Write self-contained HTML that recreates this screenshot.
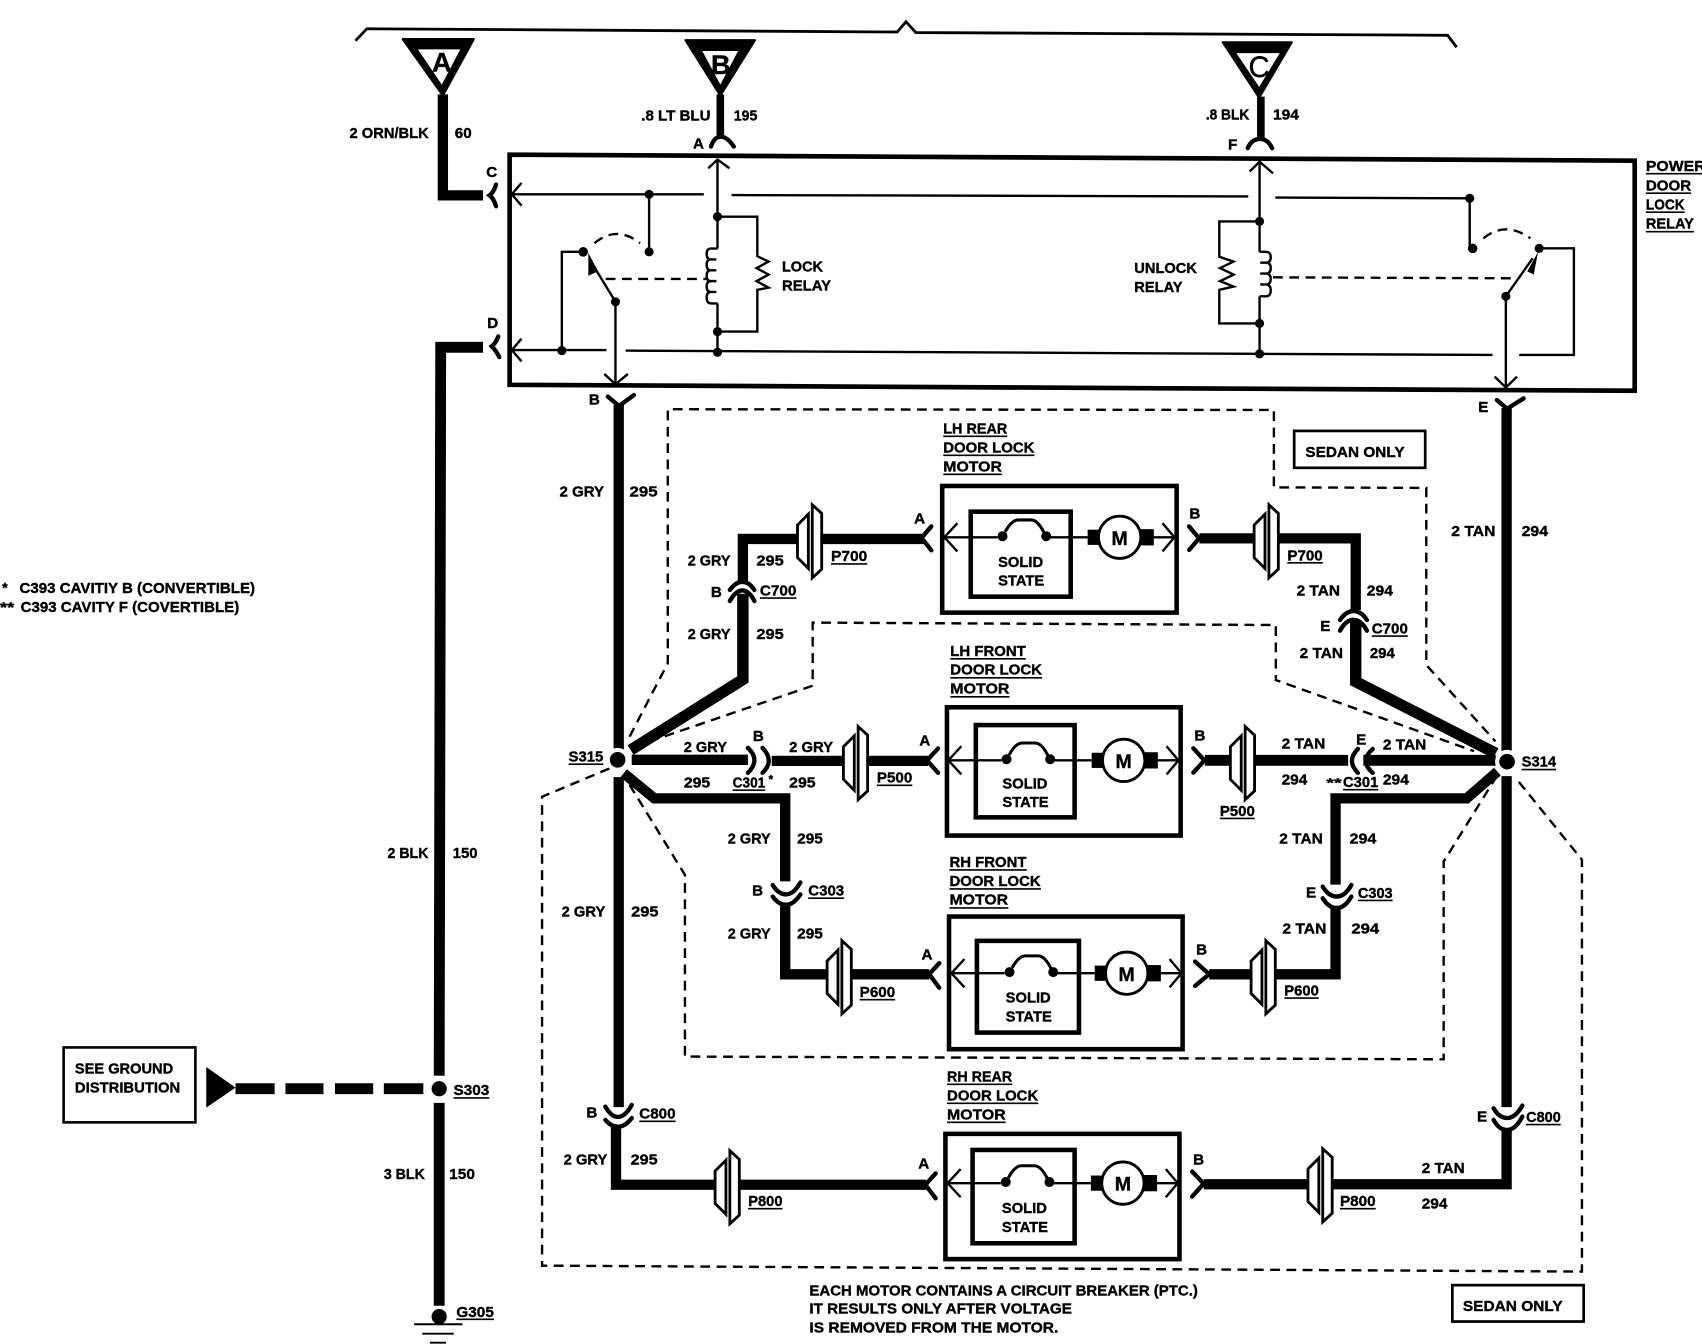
<!DOCTYPE html>
<html>
<head>
<meta charset="utf-8">
<title>Power Door Lock Diagram</title>
<style>
html,body{margin:0;padding:0;background:#fff;width:1702px;height:1344px;overflow:hidden}
svg{display:block}
text{font-family:"Liberation Sans",sans-serif;font-weight:bold;font-size:14px;fill:#000;stroke:#000;stroke-width:.35}
.w{fill:none;stroke:#000;stroke-width:9.5;stroke-linejoin:miter}
.c{fill:none;stroke:#000;stroke-width:4;stroke-linecap:round}
.n{fill:none;stroke:#000;stroke-width:2.2}
.d{fill:none;stroke:#000;stroke-width:2.2;stroke-dasharray:9 6}
.u{fill:none;stroke:#000;stroke-width:1.5}
.m{text-anchor:middle}
</style>
</head>
<body>
<svg xmlns="http://www.w3.org/2000/svg" width="1702" height="1344" viewBox="0 0 1568 1238.2">
<defs>
<g id="p">
<rect x="-11" y="-12" width="22" height="24" fill="#fff"/>
<polygon points="-11,-15 -1,-25 -1,25 -11,15" fill="#fff" stroke="#000" stroke-width="2.6"/>
<polygon points="2.6,-33.7 11.3,-25.7 11.3,25.7 2.6,33.7" fill="#fff" stroke="#000" stroke-width="2.6"/>
</g>
<g id="mo">
<path class="n" d="M2 0H51M100 0H134M195 0H214M14 -13L2 0L14 13M203 -13L214 0L203 13"/>
<circle cx="55.6" cy="-1" r="4.6"/><circle cx="95.8" cy="-1" r="4.6"/>
<path d="M58 -5Q64 -16 70 -16H82Q88 -16 94 -4" fill="none" stroke="#000" stroke-width="2.8"/>
<rect x="134" y="-7" width="10" height="14"/><rect x="182.5" y="-7.5" width="12.5" height="15"/>
<circle cx="163.5" cy="0" r="19.5" fill="#fff" stroke="#000" stroke-width="2.6"/>
</g>
</defs>

<!-- top bracket -->
<path d="M327.5 37.5L338 26.5L826.5 29.5L834.7 20L843.7 30L1333.6 32.5L1342 43.5" fill="none" stroke="#000" stroke-width="2.6"/>

<!-- fuse triangles -->
<polygon points="371,36 436.5,36 408,88" stroke="#000" stroke-width="2" stroke-linejoin="round"/>
<polygon points="385,45.5 424,45.5 407,78" fill="#fff"/>
<polygon points="631.5,37 695.5,37 663.6,88" stroke="#000" stroke-width="2" stroke-linejoin="round"/>
<polygon points="647,47 680,47 663.6,78" fill="#fff"/>
<polygon points="1126.5,39 1190,39 1160,90" stroke="#000" stroke-width="2" stroke-linejoin="round"/>
<polygon points="1139,49 1179,49 1160,80" fill="#fff"/>
<text x="407" y="66" class="m" style="font-size:25px">A</text>
<text x="664" y="68" class="m" style="font-size:25px">B</text>
<text x="1160" y="71" class="m" style="font-size:27px;font-weight:normal">C</text>

<!-- relay box -->
<polygon points="469.5,142.5 1506,148 1506,360 469.5,354.5" fill="none" stroke="#000" stroke-width="4.3"/>

<!-- relay internals -->
<path class="n" d="M471.5 179H648.4M674 179.7L1150 181M1175 182L1354 182.7V229M480.5 168.5L471.5 179L480.5 189.5"/>
<path class="n" d="M471.5 322.5H558.7M576.4 323L1160 326L1375 327M1399.6 327H1450V228.8H1418M480.5 312L471.5 322.5L480.5 333"/>
<path class="n" d="M598 179V232M537 232H517.6V323M567 278V353M556.7 344.5L567 354L578.5 344.5M567 278L545 242"/>
<polygon points="542,233 551,250 542,254"/>
<path class="d" stroke-dasharray="7 6" d="M547.6 224Q568 207 589.6 224"/>
<path class="d" d="M558 257H650.5"/>
<path class="n" d="M661 147V229M661 279.5V325.5M652.5 155L661 147L672 155M661 229H655Q651 229 651 234Q651 239 655 239H660M655 239Q651 239 651 244Q651 249 655 249H660M655 249Q651 249 651 254Q651 259 655 259H660M655 259Q651 259 651 264Q651 269 655 269H660M655 269Q651 269 651 274Q651 279.5 655 279.5H661"/>
<path class="n" d="M661 199.6H697.7V236L708 241L697 247L708 253L697 259L708 265L697.7 267V305.5H661"/>
<circle cx="598" cy="179" r="4.2"/><circle cx="598" cy="232" r="4.2"/><circle cx="537.3" cy="232" r="4.4"/><circle cx="567" cy="278" r="4.2"/><circle cx="517.6" cy="323" r="4.2"/><circle cx="661" cy="199.6" r="4.2"/><circle cx="661" cy="305.5" r="4.2"/><circle cx="661" cy="324.5" r="4.2"/>

<path class="n" d="M1160.4 149V232M1160.4 273V326M1151.3 158L1160.4 149L1172.8 159.7M1160.4 232H1166Q1170.7 232 1170.7 237Q1170.7 242 1166 242H1161M1166 242Q1170.7 242 1170.7 247Q1170.7 252 1166 252H1161M1166 252Q1170.7 252 1170.7 257Q1170.7 262 1166 262H1161M1166 262Q1170.7 262 1170.7 267.5Q1170.7 273 1166 273H1160.4"/>
<path class="n" d="M1160.4 204H1123.3V236.5L1136.5 241L1124 247L1136.5 253L1124 259L1136.5 264L1123.3 267V298H1160.4"/>
<path class="d" d="M1172.8 255.5L1397.6 256.4"/>
<path class="d" stroke-dasharray="7 6" d="M1366.6 219.6Q1387 203 1410 219.6"/>
<path class="n" d="M1387.3 273V356M1377 347L1387.3 357L1397.6 347M1387.3 273L1412 238"/>
<polygon points="1417,232 1407,250 1413,253"/>
<circle cx="1354" cy="182.7" r="4.2"/><circle cx="1356.7" cy="228.8" r="4.4"/><circle cx="1418" cy="228.8" r="4.2"/><circle cx="1387.3" cy="273" r="4.2"/><circle cx="1160.4" cy="204" r="4.2"/><circle cx="1160.4" cy="298" r="4.2"/><circle cx="1160.4" cy="326" r="4.2"/>

<!-- dashed enclosures -->
<path class="d" d="M580 678.7L615.2 611V377L1173.6 377.7V449L1314 449.5V612.6L1377.7 683"/>
<path class="d" d="M584 688L748.7 631.7V573.6L1175.4 575.8V626.5L1358 692"/>
<path class="d" d="M580 723L631 806V973.4L1330 975.9V793.8L1377.7 717"/>
<path class="d" d="M561.4 708L499.4 734V1166L1457.4 1171.5V792L1399 720"/>

<!-- wires -->
<path class="w" d="M408 87V180H445"/>
<path class="w" style="stroke-width:10" d="M445 320H406L404.6 991M404.6 1016V1203"/>
<path class="w" style="stroke-width:7" d="M663.6 87V127M1161.6 89V129"/>
<path class="w" d="M570 373V692M570 716V1020"/>
<path class="w" d="M567.5 1036V1091.5H853"/>
<path class="w" d="M1388 376V692M1388 715V1020"/>
<path class="w" d="M1388 1040V1091H1109"/>
<path class="w" style="stroke-width:10.5" d="M581 691L684.4 626V547"/>
<path class="w" d="M684.4 536V496.5H851"/>
<path class="w" style="stroke-width:10.5" d="M1378 694L1249 628V572"/>
<path class="w" d="M1249 562V496H1105"/>
<path class="w" d="M582 700H689M711 701H855"/>
<path class="w" style="stroke-width:10" d="M1378 700.5H1256M1242 700.5H1110"/>
<path class="w" d="M574.6 712.4L602.8 735.5H723.4V812"/>
<path class="w" d="M723.4 832V897.6H856"/>
<path class="w" d="M1379.5 710.9L1351.2 735.5H1230.4V815"/>
<path class="w" d="M1230.4 835V897.6H1114"/>

<!-- connector shells -->
<path class="c" d="M457 170Q455 177 451 180Q455 183 457 190"/>
<path class="c" d="M459 310Q457 316 453 319Q457 323 460 329"/>
<path class="c" d="M655 135Q658 126 664 126Q670 126 676 135"/>
<path class="c" d="M1149.5 136.5Q1153 128 1161 128Q1168 128 1172 136.5"/>
<path class="c" d="M560 365.4L570.2 374L584 364"/>
<path class="c" d="M1379 368.5L1388.5 376.5L1403.7 367"/>
<path class="c" d="M672.4 543.5Q678 536 683.7 536Q690 536 695 543.5M672.4 553.7Q678 544 683.7 544Q690 544 695 553.7"/>
<path class="c" d="M1234.5 571.2Q1240 563 1247 563Q1254 563 1259.3 571.2M1234.5 581Q1240 571 1247 571Q1254 571 1259.3 581"/>
<path class="c" d="M689 689Q701 700 689 712M702.5 689Q714 701 702.5 712"/>
<path class="c" d="M1251 690Q1240 701 1251 712M1264.6 690Q1252 701 1264.6 712"/>
<path class="c" d="M711.9 815.3Q717 824 724.3 824Q731 824 737.4 813M711.9 826Q717 833.5 724.3 833.5Q731 833.5 737.4 824"/>
<path class="c" d="M1218.6 816.8Q1224 826 1231.6 826Q1239 826 1245 815.3M1218.6 827.5Q1224 836.5 1231.6 836.5Q1239 836.5 1245 826"/>
<path class="c" d="M557.7 1019.5Q563 1029 569 1029Q576 1029 582 1018M557.7 1031.8Q563 1038 569 1038Q576 1038 582 1030"/>
<path class="c" d="M1376 1021Q1381 1030 1388.4 1030Q1396 1030 1402.5 1018.5M1376 1031.7Q1381 1041 1388.4 1041Q1396 1041 1402.5 1028.7"/>
<path class="c" d="M858 485L849 495.5L858 507"/>
<path class="c" d="M864.2 689.5L854 700.5L864.2 712"/>
<path class="c" d="M865.3 887.4L856 897.5L865.3 910"/>
<path class="c" d="M862 1081L852.5 1091.5L862 1104"/>
<path class="c" d="M1095.5 485L1104.7 496L1095.5 506.7"/>
<path class="c" d="M1099.4 689.4L1109.6 700.5L1099.4 711.8"/>
<path class="c" d="M1101 885.9L1114 897.5L1101 908.3"/>
<path class="c" d="M1098.3 1079.3L1108.9 1090.5L1098.3 1102.4"/>

<!-- plugs -->
<use href="#p" x="745.7" y="498.7"/>
<use href="#p" x="1166.4" y="498.7"/>
<use href="#p" x="788" y="703"/>
<use href="#p" x="1144.5" y="703"/>
<use href="#p" x="773" y="900.3"/>
<use href="#p" x="1163.6" y="900.3"/>
<use href="#p" x="669.8" y="1093.8"/>
<use href="#p" x="1216" y="1092"/>

<!-- motor boxes -->
<g fill="none" stroke="#000" stroke-width="4.2">
<rect x="868" y="447.7" width="216" height="116.7"/>
<rect x="872.4" y="651.6" width="215.3" height="118.2"/>
<rect x="874.3" y="844.4" width="215.2" height="122.2"/>
<rect x="871" y="1044.6" width="215.6" height="115.4"/>
<rect x="894.3" y="471.4" width="92.1" height="78.3"/>
<rect x="899" y="668" width="91" height="85"/>
<rect x="900" y="866.8" width="94" height="84.5"/>
<rect x="896" y="1059.4" width="94" height="86"/>
</g>
<use href="#mo" x="868" y="495"/>
<use href="#mo" x="871.7" y="700.5"/>
<use href="#mo" x="874.5" y="896.6"/>
<use href="#mo" x="871" y="1090"/>
<text x="1031.5" y="502" class="m" style="font-size:18px">M</text>
<text x="1035.2" y="707.5" class="m" style="font-size:18px">M</text>
<text x="1038" y="903.6" class="m" style="font-size:18px">M</text>
<text x="1034.5" y="1097" class="m" style="font-size:18px">M</text>
<text x="919.5" y="522.5" textLength="41.5" lengthAdjust="spacingAndGlyphs">SOLID</text>
<text x="919.5" y="539.5" textLength="42.5" lengthAdjust="spacingAndGlyphs">STATE</text>
<text x="923.5" y="726.5" textLength="41.5" lengthAdjust="spacingAndGlyphs">SOLID</text>
<text x="923.5" y="743.5" textLength="42.5" lengthAdjust="spacingAndGlyphs">STATE</text>
<text x="926.5" y="923.7" textLength="41.5" lengthAdjust="spacingAndGlyphs">SOLID</text>
<text x="926.5" y="941" textLength="42.5" lengthAdjust="spacingAndGlyphs">STATE</text>
<text x="923" y="1117.5" textLength="41.5" lengthAdjust="spacingAndGlyphs">SOLID</text>
<text x="923" y="1135" textLength="42.5" lengthAdjust="spacingAndGlyphs">STATE</text>

<!-- splices & ground -->
<circle cx="569" cy="700" r="11" fill="#fff"/><circle cx="569" cy="700" r="7.2"/>
<circle cx="1388.4" cy="701.7" r="11" fill="#fff"/><circle cx="1388.4" cy="701.7" r="7.2"/>
<circle cx="404.6" cy="1003" r="7"/>
<circle cx="404.6" cy="1213" r="7"/>
<path d="M381.6 1220H426M389 1228.7H418M396 1237H411" fill="none" stroke="#000" stroke-width="1.8"/>

<!-- ground distribution -->
<rect x="58.6" y="965" width="121.4" height="69" fill="none" stroke="#000" stroke-width="2.4"/>
<polygon points="190,983 217,1002 190,1020.4"/>
<path d="M217 1003H253M263 1003H298M308.6 1003H343.8M353.6 1003H390" fill="none" stroke="#000" stroke-width="10"/>
<text x="69" y="989" textLength="90.5" lengthAdjust="spacingAndGlyphs">SEE GROUND</text>
<text x="69" y="1006.5" textLength="97" lengthAdjust="spacingAndGlyphs">DISTRIBUTION</text>

<!-- sedan only -->
<rect x="1192.3" y="397" width="120.7" height="34" fill="none" stroke="#000" stroke-width="2.5"/>
<rect x="1338" y="1184" width="121" height="33.5" fill="none" stroke="#000" stroke-width="2.5"/>
<text x="1202.6" y="421" textLength="91.4" lengthAdjust="spacingAndGlyphs">SEDAN ONLY</text>
<text x="1347.7" y="1208" textLength="92" lengthAdjust="spacingAndGlyphs">SEDAN ONLY</text>

<!-- underlines -->
<path class="u" d="M869 402H928M869 419.5H953M869 437H923M875.5 607H945M875.5 624.5H960M875.5 642H930M874.7 801.5H946M874.7 819H959M874.7 836.5H929M872.5 999H932.5M872.5 1016.5H956.5M872.5 1034H926.5M1516.3 160H1568M1516.3 178H1558M1516.3 195.5H1552M1516.3 213.5H1560.5M700 551H733.7M765.6 519.5H799M675 728H705M807.8 723.5H840.5M744.6 827.5H777.7M792 921H824.7M588.9 1033H622.4M689.3 1113.5H720.9M1186 518.5H1218.6M1263.8 586H1297M1237.3 727.5H1269.8M1123.8 754H1156M1251 829.5H1283M1183.2 919.5H1215M1406 1036H1437.9M1234.5 1113.5H1267.4M523.8 704H555.8M1401.8 709H1433.6M417.8 1011.5H450.7M420.4 1215.5H455"/>

<!-- motor titles -->
<text x="869" y="399.6" textLength="59" lengthAdjust="spacingAndGlyphs">LH REAR</text>
<text x="869" y="417" textLength="84" lengthAdjust="spacingAndGlyphs">DOOR LOCK</text>
<text x="869" y="434.3" textLength="54" lengthAdjust="spacingAndGlyphs">MOTOR</text>
<text x="875.5" y="604.4" textLength="69.5" lengthAdjust="spacingAndGlyphs">LH FRONT</text>
<text x="875.5" y="621.6" textLength="84.5" lengthAdjust="spacingAndGlyphs">DOOR LOCK</text>
<text x="875.5" y="639" textLength="54.5" lengthAdjust="spacingAndGlyphs">MOTOR</text>
<text x="874.7" y="798.8" textLength="71" lengthAdjust="spacingAndGlyphs">RH FRONT</text>
<text x="874.7" y="816.3" textLength="84" lengthAdjust="spacingAndGlyphs">DOOR LOCK</text>
<text x="874.7" y="833.5" textLength="54" lengthAdjust="spacingAndGlyphs">MOTOR</text>
<text x="872.5" y="996.2" textLength="60" lengthAdjust="spacingAndGlyphs">RH REAR</text>
<text x="872.5" y="1013.7" textLength="84" lengthAdjust="spacingAndGlyphs">DOOR LOCK</text>
<text x="872.5" y="1031.5" textLength="54" lengthAdjust="spacingAndGlyphs">MOTOR</text>

<text x="1516.3" y="157.6" textLength="55" lengthAdjust="spacingAndGlyphs">POWER</text>
<text x="1516.3" y="175.4" textLength="41.7" lengthAdjust="spacingAndGlyphs">DOOR</text>
<text x="1516.3" y="193" textLength="35.7" lengthAdjust="spacingAndGlyphs">LOCK</text>
<text x="1516.3" y="210.7" textLength="44.2" lengthAdjust="spacingAndGlyphs">RELAY</text>
<text x="720.4" y="250" textLength="37.8" lengthAdjust="spacingAndGlyphs">LOCK</text>
<text x="720.4" y="267.6" textLength="45.2" lengthAdjust="spacingAndGlyphs">RELAY</text>
<text x="1045" y="251.6" textLength="57.7" lengthAdjust="spacingAndGlyphs">UNLOCK</text>
<text x="1045" y="269" textLength="44.5" lengthAdjust="spacingAndGlyphs">RELAY</text>

<!-- top wire labels -->
<text x="322" y="127" textLength="73" lengthAdjust="spacingAndGlyphs">2 ORN/BLK</text>
<text x="419" y="127" textLength="15.6" lengthAdjust="spacingAndGlyphs">60</text>
<text x="590.8" y="111" textLength="63.8" lengthAdjust="spacingAndGlyphs">.8 LT BLU</text>
<text x="676" y="111" textLength="21.7" lengthAdjust="spacingAndGlyphs">195</text>
<text x="1110.9" y="110" textLength="40" lengthAdjust="spacingAndGlyphs">.8 BLK</text>
<text x="1172.8" y="110" textLength="23.9" lengthAdjust="spacingAndGlyphs">194</text>
<text x="453" y="163" class="m">C</text>
<text x="454" y="302" class="m">D</text>
<text x="643.5" y="137" class="m">A</text>
<text x="1135.6" y="137.7" class="m">F</text>
<text x="547.6" y="372.6" class="m">B</text>
<text x="1366.6" y="379.6" class="m">E</text>

<!-- left trunk -->
<text x="357" y="790.6" textLength="37.7" lengthAdjust="spacingAndGlyphs">2 BLK</text>
<text x="417" y="790.6" textLength="23" lengthAdjust="spacingAndGlyphs">150</text>
<text x="353.6" y="1086.4" textLength="37.8" lengthAdjust="spacingAndGlyphs">3 BLK</text>
<text x="413.8" y="1086.4" textLength="23.7" lengthAdjust="spacingAndGlyphs">150</text>
<text x="417.8" y="1009" textLength="32.9" lengthAdjust="spacingAndGlyphs">S303</text>
<text x="420.4" y="1213.4" textLength="34.6" lengthAdjust="spacingAndGlyphs">G305</text>

<!-- left harness labels -->
<text x="515.5" y="457.3" textLength="41" lengthAdjust="spacingAndGlyphs">2 GRY</text>
<text x="580" y="457.3" textLength="25.8" lengthAdjust="spacingAndGlyphs">295</text>
<text x="633.6" y="521" textLength="39.4" lengthAdjust="spacingAndGlyphs">2 GRY</text>
<text x="696.8" y="521" textLength="25.2" lengthAdjust="spacingAndGlyphs">295</text>
<text x="765.6" y="517" textLength="33.4" lengthAdjust="spacingAndGlyphs">P700</text>
<text x="847.2" y="482.5" class="m">A</text>
<text x="660" y="550" class="m">B</text>
<text x="700" y="548.5" textLength="33.7" lengthAdjust="spacingAndGlyphs">C700</text>
<text x="633.6" y="588.5" textLength="39.4" lengthAdjust="spacingAndGlyphs">2 GRY</text>
<text x="696.8" y="588.5" textLength="25.2" lengthAdjust="spacingAndGlyphs">295</text>
<text x="523.8" y="701.5" textLength="32" lengthAdjust="spacingAndGlyphs">S315</text>
<text x="629.9" y="692.8" textLength="39.9" lengthAdjust="spacingAndGlyphs">2 GRY</text>
<text x="630" y="725.7" textLength="24.3" lengthAdjust="spacingAndGlyphs">295</text>
<text x="698.7" y="682.7" class="m">B</text>
<text x="675" y="725.7" textLength="30" lengthAdjust="spacingAndGlyphs">C301</text>
<text x="708" y="722" style="font-size:11px">*</text>
<text x="727" y="692.8" textLength="40.5" lengthAdjust="spacingAndGlyphs">2 GRY</text>
<text x="727" y="725.7" textLength="24.4" lengthAdjust="spacingAndGlyphs">295</text>
<text x="807.8" y="721" textLength="32.7" lengthAdjust="spacingAndGlyphs">P500</text>
<text x="852" y="686.7" class="m">A</text>
<text x="670.5" y="777.3" textLength="39.5" lengthAdjust="spacingAndGlyphs">2 GRY</text>
<text x="734.4" y="777.3" textLength="23.6" lengthAdjust="spacingAndGlyphs">295</text>
<text x="698" y="824.9" class="m">B</text>
<text x="744.6" y="824.9" textLength="33.1" lengthAdjust="spacingAndGlyphs">C303</text>
<text x="670.5" y="864.8" textLength="39.5" lengthAdjust="spacingAndGlyphs">2 GRY</text>
<text x="734.4" y="864.8" textLength="23.6" lengthAdjust="spacingAndGlyphs">295</text>
<text x="792" y="918.5" textLength="32.7" lengthAdjust="spacingAndGlyphs">P600</text>
<text x="854" y="883.8" class="m">A</text>
<text x="517.4" y="844.2" textLength="40.3" lengthAdjust="spacingAndGlyphs">2 GRY</text>
<text x="581.4" y="844.2" textLength="25.2" lengthAdjust="spacingAndGlyphs">295</text>
<text x="545.3" y="1029.7" class="m">B</text>
<text x="588.9" y="1030.6" textLength="33.5" lengthAdjust="spacingAndGlyphs">C800</text>
<text x="519.3" y="1072.7" textLength="40.2" lengthAdjust="spacingAndGlyphs">2 GRY</text>
<text x="581" y="1072.7" textLength="24.8" lengthAdjust="spacingAndGlyphs">295</text>
<text x="689.3" y="1111" textLength="31.6" lengthAdjust="spacingAndGlyphs">P800</text>
<text x="851" y="1076.6" class="m">A</text>

<!-- right harness labels -->
<text x="1337" y="493.9" textLength="40.7" lengthAdjust="spacingAndGlyphs">2 TAN</text>
<text x="1401.8" y="493.9" textLength="24.4" lengthAdjust="spacingAndGlyphs">294</text>
<text x="1100.8" y="477.9" class="m">B</text>
<text x="1186" y="516.3" textLength="32.6" lengthAdjust="spacingAndGlyphs">P700</text>
<text x="1194.5" y="548.5" textLength="40" lengthAdjust="spacingAndGlyphs">2 TAN</text>
<text x="1259.2" y="548.5" textLength="24.1" lengthAdjust="spacingAndGlyphs">294</text>
<text x="1221" y="581.4" class="m">E</text>
<text x="1263.8" y="583.8" textLength="33.2" lengthAdjust="spacingAndGlyphs">C700</text>
<text x="1197.3" y="606" textLength="40" lengthAdjust="spacingAndGlyphs">2 TAN</text>
<text x="1262" y="606" textLength="23" lengthAdjust="spacingAndGlyphs">294</text>
<text x="1401.8" y="706" textLength="31.8" lengthAdjust="spacingAndGlyphs">S314</text>
<text x="1105.4" y="682.1" class="m">B</text>
<text x="1180.7" y="689.8" textLength="40.3" lengthAdjust="spacingAndGlyphs">2 TAN</text>
<text x="1180.7" y="722.6" textLength="23.7" lengthAdjust="spacingAndGlyphs">294</text>
<text x="1254" y="685.8" class="m">E</text>
<text x="1274" y="690.7" textLength="40" lengthAdjust="spacingAndGlyphs">2 TAN</text>
<text x="1274" y="722.6" textLength="24" lengthAdjust="spacingAndGlyphs">294</text>
<text x="1222" y="725" style="font-size:11px" textLength="14" lengthAdjust="spacingAndGlyphs">**</text>
<text x="1237.3" y="725" textLength="32.5" lengthAdjust="spacingAndGlyphs">C301</text>
<text x="1123.8" y="751.8" textLength="32.2" lengthAdjust="spacingAndGlyphs">P500</text>
<text x="1178.6" y="777.3" textLength="40" lengthAdjust="spacingAndGlyphs">2 TAN</text>
<text x="1243.3" y="777.3" textLength="24.7" lengthAdjust="spacingAndGlyphs">294</text>
<text x="1207.9" y="827" class="m">E</text>
<text x="1251" y="827.3" textLength="32" lengthAdjust="spacingAndGlyphs">C303</text>
<text x="1181.4" y="860.2" textLength="40.6" lengthAdjust="spacingAndGlyphs">2 TAN</text>
<text x="1245" y="860.2" textLength="25.6" lengthAdjust="spacingAndGlyphs">294</text>
<text x="1107" y="879.2" class="m">B</text>
<text x="1183.2" y="917" textLength="31.8" lengthAdjust="spacingAndGlyphs">P600</text>
<text x="1365.4" y="1033" class="m">E</text>
<text x="1406" y="1033.7" textLength="31.9" lengthAdjust="spacingAndGlyphs">C800</text>
<text x="1104.3" y="1072.7" class="m">B</text>
<text x="1309.8" y="1080.7" textLength="39.6" lengthAdjust="spacingAndGlyphs">2 TAN</text>
<text x="1309.8" y="1113.5" textLength="23.7" lengthAdjust="spacingAndGlyphs">294</text>
<text x="1234.5" y="1111" textLength="32.9" lengthAdjust="spacingAndGlyphs">P800</text>

<!-- footnotes -->
<text x="2" y="546" style="font-size:13px">*</text>
<text x="18" y="546.4" textLength="217" lengthAdjust="spacingAndGlyphs">C393 CAVITIY B (CONVERTIBLE)</text>
<text x="0" y="563.9" style="font-size:13px" textLength="13" lengthAdjust="spacingAndGlyphs">**</text>
<text x="19" y="563.9" textLength="201.4" lengthAdjust="spacingAndGlyphs">C393 CAVITY F (COVERTIBLE)</text>

<text x="745.7" y="1193.3" textLength="357.9" lengthAdjust="spacingAndGlyphs">EACH MOTOR CONTAINS A CIRCUIT BREAKER (PTC.)</text>
<text x="745.7" y="1210.2" textLength="241.8" lengthAdjust="spacingAndGlyphs">IT RESULTS ONLY AFTER VOLTAGE</text>
<text x="745.7" y="1227.7" textLength="229.3" lengthAdjust="spacingAndGlyphs">IS REMOVED FROM THE MOTOR.</text>
</svg>
</body>
</html>
